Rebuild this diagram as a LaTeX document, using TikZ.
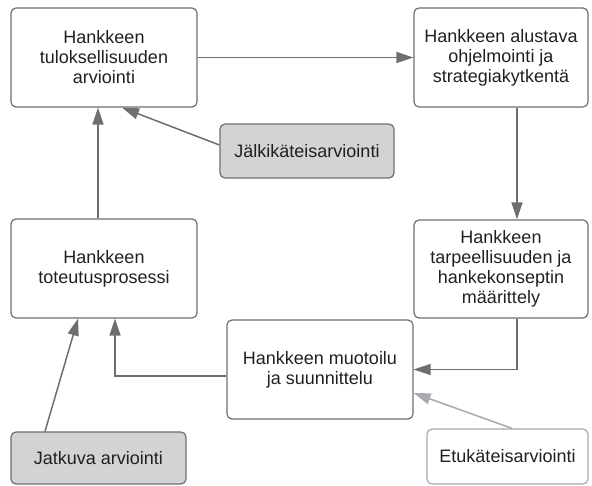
\documentclass[tikz,border=0pt]{standalone}
\usepackage{fontspec}
\setmainfont{Liberation Sans}
\usetikzlibrary{arrows.meta}
\definecolor{viiva}{HTML}{6D6E71}
\definecolor{vaalea}{HTML}{A7A9AC}
\definecolor{harmaa}{HTML}{D1D3D4}
\definecolor{teksti}{HTML}{231F20}
\tikzset{
  vaihe/.style={draw=viiva, line width=1.2pt, rounded corners=5pt, align=center,
    inner sep=0pt, text=teksti, font=\fontsize{18}{20}\selectfont},
  arvio/.style={vaihe, fill=harmaa},
  nuoli/.style={draw=viiva, line width=1.5pt, -{Triangle[length=17pt,width=11pt]}}
}
\begin{document}
\begin{tikzpicture}[x=1pt,y=-1pt]
            \useasboundingbox (0,0) rectangle (592,486);
            \node[vaihe, minimum width=186pt, minimum height=99pt] (tulos) at (104,57.5) {Hankkeen\\tuloksellisuuden\\arviointi};
            \node[vaihe, minimum width=174pt, minimum height=99pt] (ohjelm) at (501,57.5) {Hankkeen alustava\\ohjelmointi ja\\strategiakytkentä};
            \node[arvio, minimum width=174pt, minimum height=54pt] (jalki) at (307,151) {Jälkikäteisarviointi};
            \node[vaihe, minimum width=186pt, minimum height=99pt] (toteutus) at (104,268.5) {Hankkeen\\toteutusprosessi};
            \node[vaihe, minimum width=174pt, minimum height=98pt] (tarve) at (501,269) {Hankkeen\\tarpeellisuuden ja\\hankekonseptin\\määrittely};
            \node[vaihe, minimum width=186pt, minimum height=99pt] (muotoilu) at (320,369.5) {Hankkeen muotoilu\\ja suunnittelu};
            \node[arvio, minimum width=175pt, minimum height=52pt] (jatkuva) at (98.5,458) {Jatkuva arviointi};
            \node[vaihe, draw=vaalea, minimum width=161pt, minimum height=55pt] (etu) at (507.5,456.5) {Etukäteisarviointi};
            \draw[nuoli] (tulos.east) -- (ohjelm.west);
            \draw[nuoli] ([xshift=16pt]ohjelm.south) -- ([xshift=16pt]tarve.north);
            \draw[nuoli] ([xshift=16pt]tarve.south) |- (muotoilu.east);
            \draw[nuoli] ([yshift=-6.5pt]muotoilu.west) -| ([xshift=11pt]toteutus.south);
            \draw[nuoli] ([xshift=-6pt]toteutus.north) -- ([xshift=-6pt]tulos.south);
            \draw[nuoli] ([yshift=6pt]jalki.west) -- ([xshift=18pt]tulos.south);
            \draw[nuoli] ([xshift=-53.5pt]jatkuva.north) -- ([xshift=-26pt]toteutus.south);
            \draw[nuoli, draw=vaalea] ([xshift=4.5pt]etu.north) -- ([yshift=-23.5pt]muotoilu.east);
        \end{tikzpicture}
\end{document}
